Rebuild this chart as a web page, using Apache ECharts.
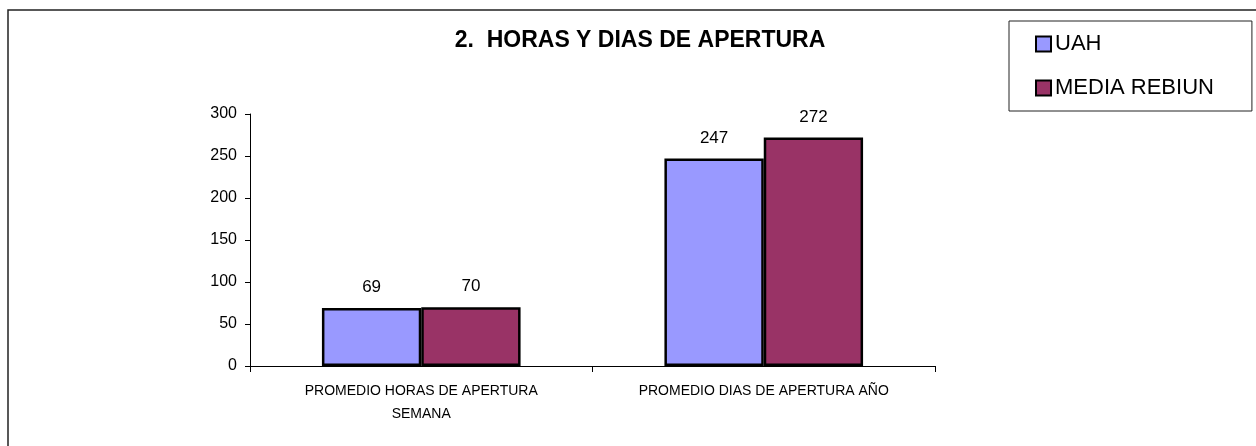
<!DOCTYPE html>
<html>
<head>
<meta charset="utf-8">
<script src="https://cdn.jsdelivr.net/npm/echarts@6/dist/echarts.min.js"></script>
<style>
  html, body { margin: 0; padding: 0; background: #ffffff; }
  #chart { width: 1256px; height: 446px; }
</style>
</head>
<body>
<div id="chart"></div>
<script>
// datos
const categories = ['PROMEDIO HORAS DE APERTURA\nSEMANA', 'PROMEDIO DIAS DE APERTURA AÑO']
const uahValues = [69, 247]
const rebiunValues = [70, 272]
const seriesNames = ['UAH', 'MEDIA REBIUN']
const yTicks = { min: 0, max: 300, interval: 50 }

const chart = echarts.init(document.getElementById('chart'))

const fontFamily = 'Liberation Sans, Arial, sans-serif'

chart.setOption({
  animation: false,
  backgroundColor: '#ffffff',
  title: {
    text: '2.  HORAS Y DIAS DE APERTURA',
    left: 635,
    top: 24,
    textAlign: 'center',
    textStyle: {
      fontFamily: fontFamily,
      fontSize: 23,
      fontWeight: 'bold',
      color: '#000000'
    }
  },
  legend: {
    orient: 'vertical',
    left: 1009,
    top: 21,
    padding: [12, 38, 12, 26],
    itemGap: 22,
    itemWidth: 15,
    itemHeight: 15,
    backgroundColor: '#ffffff',
    borderColor: '#222222',
    borderWidth: 1,
    icon: 'rect',
    data: seriesNames,
    textStyle: {
      fontFamily: fontFamily,
      fontSize: 22,
      color: '#000000',
      padding: [0, 0, 0, -1]
    }
  },
  graphic: [{
    type: 'rect',
    silent: true,
    shape: { x: 8, y: 10, width: 1400, height: 600 },
    style: { fill: null, stroke: '#222222', lineWidth: 1.5 }
  }],
  grid: {
    left: 250,
    right: 321,
    top: 114,
    bottom: 80
  },
  xAxis: {
    type: 'category',
    data: categories,
    axisLine: { lineStyle: { color: '#000000', width: 1 } },
    axisTick: { show: true, length: 6, lineStyle: { color: '#000000' } },
    axisLabel: {
      interval: 0,
      margin: 14,
      fontFamily: fontFamily,
      fontSize: 14,
      lineHeight: 23,
      color: '#000000',
      align: 'center'
    }
  },
  yAxis: {
    type: 'value',
    min: yTicks.min,
    max: yTicks.max,
    interval: yTicks.interval,
    splitLine: { show: false },
    axisLine: { show: true, lineStyle: { color: '#000000', width: 1 } },
    axisTick: { show: true, length: 5, lineStyle: { color: '#000000' } },
    axisLabel: {
      margin: 13,
      fontFamily: fontFamily,
      fontSize: 16,
      color: '#000000'
    }
  },
  series: [{
    name: seriesNames[0],
    type: 'bar',
    data: uahValues,
    barGap: '0%',
    barCategoryGap: '42%',
    itemStyle: { color: '#9999FF', borderColor: '#000000', borderWidth: 2.5 },
    label: {
      show: true,
      position: 'top',
      distance: 12,
      fontFamily: fontFamily,
      fontSize: 17,
      color: '#000000'
    }
  }, {
    name: seriesNames[1],
    type: 'bar',
    data: rebiunValues,
    barGap: '0%',
    barCategoryGap: '42%',
    itemStyle: { color: '#993366', borderColor: '#000000', borderWidth: 2.5 },
    label: {
      show: true,
      position: 'top',
      distance: 12,
      fontFamily: fontFamily,
      fontSize: 17,
      color: '#000000'
    }
  }]
})
</script>
</body>
</html>
